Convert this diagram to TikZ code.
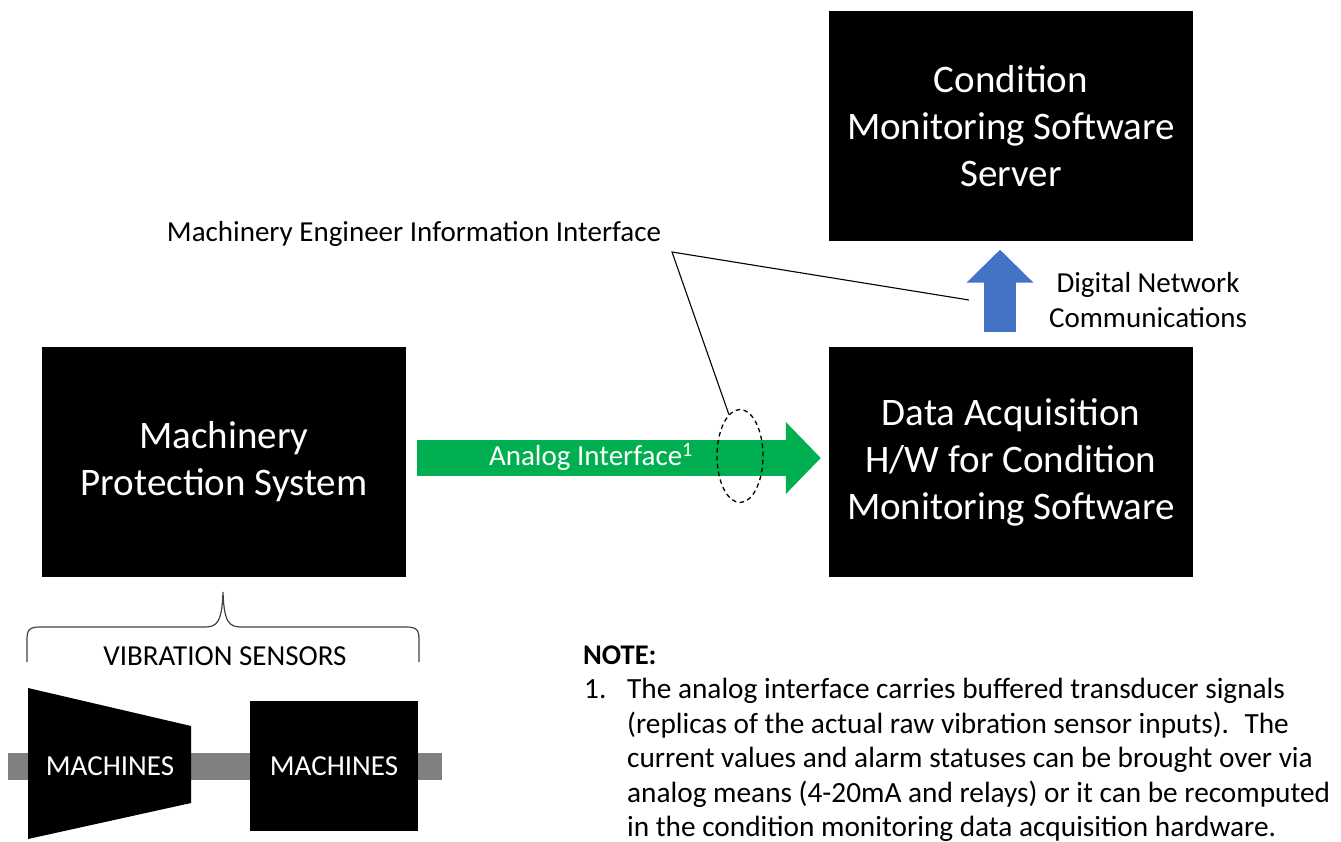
\documentclass[tikz,border=0pt]{standalone}
\usepackage{fontspec}
\setmainfont{Carlito}
\usetikzlibrary{arrows.meta,shapes.geometric,calc}
\definecolor{flowgreen}{HTML}{00B050}
\definecolor{netblue}{HTML}{4472C4}
\definecolor{shaftgray}{HTML}{808080}
\definecolor{bracegray}{HTML}{404040}

\begin{document}
\begin{tikzpicture}[x=1pt,y=-1pt,
  blackbox/.style={fill=black, text=white, align=center, inner sep=0pt,
    minimum width=364pt, minimum height=230pt,
    font=\fontsize{39}{47}\selectfont},
  smalltext/.style={font=\fontsize{29}{35}\selectfont, inner sep=0pt},
  noteline/.style={font=\fontsize{29.3}{34}\selectfont, inner sep=0pt, anchor=base west},
  machine/.style={fill=black, draw=none},
  machinetext/.style={text=white, font=\fontsize{29}{35}\selectfont, inner sep=0pt},
  callout/.style={draw=black, line width=1.1pt}
]
\useasboundingbox (0,0) rectangle (1341,842);

% main blocks
\node[blackbox] (server) at (1011,126.5) {Condition\\Monitoring Software\\Server};
\node[blackbox] (daq) at (1011,462) {Data Acquisition\\H/W for Condition\\Monitoring Software};
\node[blackbox] (mps) at (224,462) {Machinery\\Protection System};

% analog interface arrow
\coordinate (gstart) at ($(mps.east)+(11,-4)$);
\coordinate (gend) at ($(daq.west)+(-8,-4)$);
\draw[flowgreen, line width=36pt, -{Triangle[length=35pt,width=70pt]}] (gstart) -- (gend);
\node[smalltext, text=white] (analog) at (591,457) {Analog Interface\textsuperscript{1}};

% digital network arrow
\coordinate (bstart) at ($(daq.north)+(-11,-15)$);
\coordinate (bend) at ($(server.south)+(-11,8)$);
\draw[netblue, line width=32pt, -{Triangle[length=33pt,width=65pt]}] (bstart) -- (bend);
\node[smalltext, align=center] (dnc) at (1148,300) {Digital Network\\Communications};

% information interface callout
\node[draw, line width=1.3pt, dash pattern=on 4.5pt off 3.5pt, ellipse,
      minimum width=46pt, minimum height=93pt, inner sep=0pt] (tap) at (740,456) {};
\node[smalltext] (mei) at (414,234) {Machinery Engineer Information Interface};
\coordinate (callv) at (672,252);
\coordinate (netpt) at (969,300);
\draw[callout] (tap.105) -- (callv) -- (netpt);

% sensors brace
\coordinate (brL) at (27,662);
\coordinate (brR) at (419,662);
\coordinate (brT) at (223,592);
\draw[bracegray, line width=1.2pt]
  (brL) -- (27,640) .. controls (27,630) and (29,627) .. (40,627)
  -- (205,627) .. controls (217,627) and (222,622) .. (brT)
  .. controls (224,622) and (229,627) .. (241,627)
  -- (406,627) .. controls (417,627) and (419,630) .. (419,640) -- (brR);
\node[smalltext] (vib) at (225,656) {VIBRATION SENSORS};

% machine train
\fill[shaftgray] (8,753) rectangle (442,780);
\fill[machine] (28,688) -- (191,726) -- (191,803) -- (28,839) -- cycle;
\node[machinetext] (m1) at (110,766) {MACHINES};
\node[machine, minimum width=168pt, minimum height=130pt, inner sep=0pt] (m2box) at (334,766) {};
\node[machinetext] (m2) at (334,766) {MACHINES};

% note
\node[noteline, font=\fontsize{28.5}{33}\selectfont\bfseries] (note) at (583,664) {NOTE:};
\node[noteline] (n0) at (584,698.5) {1.};
\node[noteline] (n1) at (627,698.5) {The analog interface carries buffered transducer signals};
\node[noteline] (n2) at (627,733) {(replicas of the actual raw vibration sensor inputs).~ The};
\node[noteline] (n3) at (627,767.5) {current values and alarm statuses can be brought over via};
\node[noteline] (n4) at (627,802) {analog means (4-20mA and relays) or it can be recomputed};
\node[noteline] (n5) at (627,836.5) {in the condition monitoring data acquisition hardware.};
\end{tikzpicture}
\end{document}
